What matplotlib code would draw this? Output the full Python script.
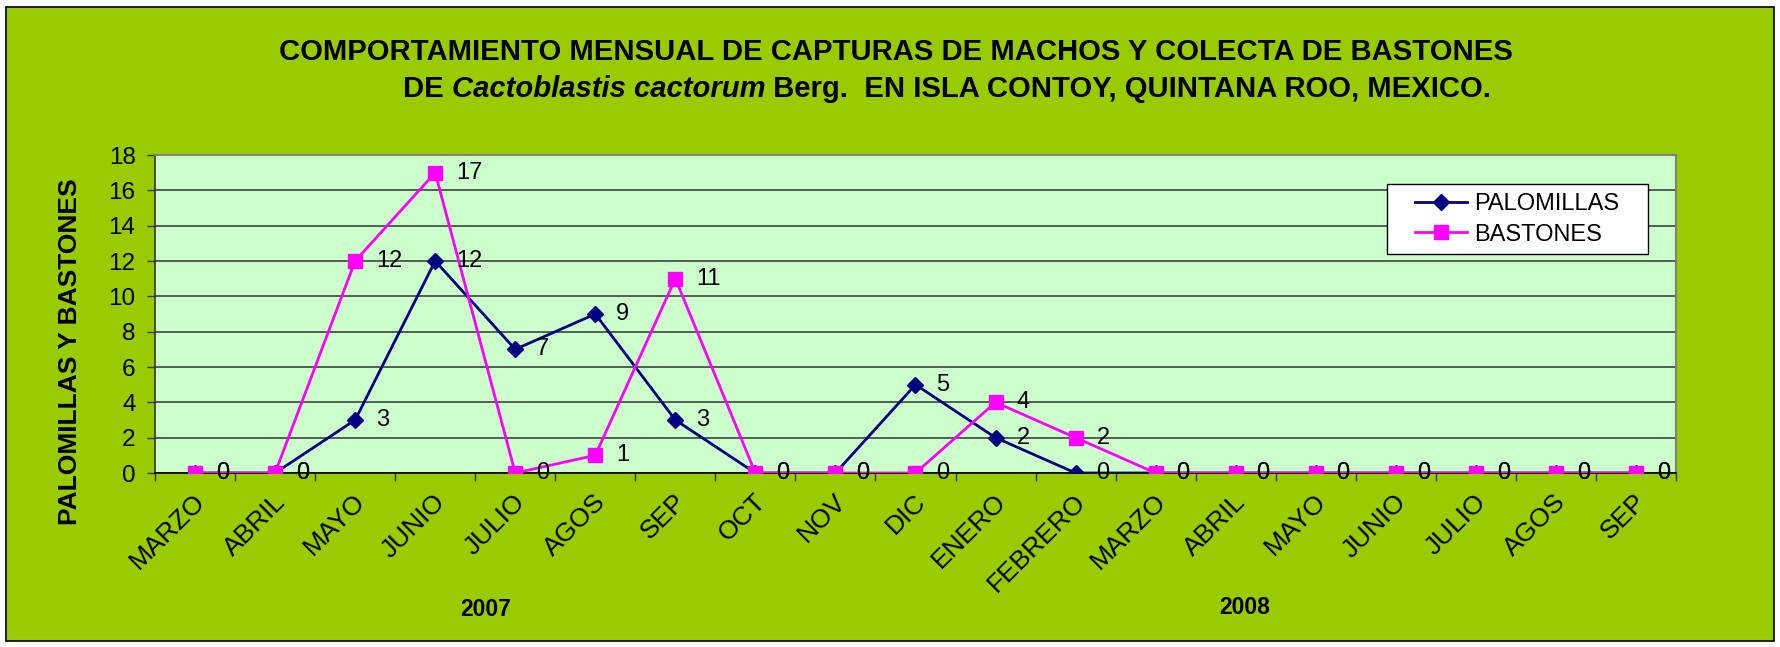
import matplotlib
matplotlib.use("Agg")
import matplotlib.pyplot as plt
from matplotlib.patches import Rectangle
from matplotlib.transforms import ScaledTranslation
import numpy as np

months = ["MARZO", "ABRIL", "MAYO", "JUNIO", "JULIO", "AGOS", "SEP", "OCT", "NOV", "DIC",
          "ENERO", "FEBRERO", "MARZO", "ABRIL", "MAYO", "JUNIO", "JULIO", "AGOS", "SEP"]
palomillas = [0, 0, 3, 12, 7, 9, 3, 0, 0, 5, 2, 0, 0, 0, 0, 0, 0, 0, 0]
bastones = [0, 0, 12, 17, 0, 1, 11, 0, 0, 0, 4, 2, 0, 0, 0, 0, 0, 0, 0]
years = ["2007", "2008"]
yticks = list(range(0, 19, 2))

plt.rcParams['font.family'] = ['Liberation Sans', 'DejaVu Sans']

W, H = 1781, 647
fig = plt.figure(figsize=(W / 100, H / 100), dpi=100, facecolor="white")

def fx(px):
    return px / W

def fy(py):
    return 1 - py / H

# green background with black border
fig.patches.append(Rectangle((fx(6), fy(641)), fx(1774) - fx(6), fy(7) - fy(641),
                             transform=fig.transFigure, facecolor="#99CC00",
                             edgecolor="black", linewidth=1.2, zorder=-10))

ax = fig.add_axes([fx(155), fy(473), fx(1676) - fx(155), fy(155) - fy(473)])
ax.set_facecolor("#CCFFCC")

x = np.arange(len(months))
ax.set_xlim(-0.5, len(months) - 0.5)
ax.set_ylim(0, 18)
ax.set_yticks(yticks)
ax.yaxis.grid(True, color="#333333", linewidth=1.1)
ax.set_axisbelow(True)

ax.plot(x, palomillas, color="#000080", lw=2, marker="D", markersize=8,
        markerfacecolor="#000080", markeredgecolor="#000080", label="PALOMILLAS", zorder=3)
ax.plot(x, bastones, color="#FF00FF", lw=2, marker="s", markersize=10,
        markerfacecolor="#FF00FF", markeredgecolor="#FF00FF", label="BASTONES", zorder=4)

for xi, v in zip(x, palomillas):
    ax.annotate(str(v), (xi, v), xytext=(15, 0), textcoords="offset points",
                ha="left", va="center", fontsize=17, zorder=6)
for xi, v in zip(x, bastones):
    ax.annotate(str(v), (xi, v), xytext=(15, 0), textcoords="offset points",
                ha="left", va="center", fontsize=17, zorder=6)

ax.set_xticks(x)
ax.set_xticklabels(months, rotation=45, ha="right", va="top", rotation_mode="anchor",
                   fontsize=19)
ax.tick_params(axis="x", which="major", length=0, pad=12)
shift = ScaledTranslation(-2 / 100, 0, fig.dpi_scale_trans)
for lab in ax.get_xticklabels():
    lab.set_transform(lab.get_transform() + shift)
ax.set_xticks(np.arange(-0.5, len(months), 1), minor=True)
ax.tick_params(axis="x", which="minor", length=6, width=1, color="#333333", direction="out")
ax.tick_params(axis="y", length=6, width=1, color="#333333", labelsize=17.5, pad=8)

for s in ["top", "right"]:
    ax.spines[s].set_color("#808080")
    ax.spines[s].set_linewidth(1.5)
ax.spines["left"].set_color("#333333")
ax.spines["bottom"].set_color("black")
ax.spines["left"].set_linewidth(1.2)
ax.spines["bottom"].set_linewidth(1.2)

# y label
fig.text(fx(70), fy(352), "PALOMILLAS Y BASTONES", rotation=90, ha="center", va="center",
         fontsize=19, fontweight="bold")

# year labels
fig.text(fx(486), fy(610), years[0], ha="center", va="center", fontsize=16.5, fontweight="bold")
fig.text(fx(1245), fy(608), years[1], ha="center", va="center", fontsize=16.5, fontweight="bold")

# title
fig.canvas.draw()
renderer = fig.canvas.get_renderer()
t1 = fig.text(fx(279), fy(52), "COMPORTAMIENTO MENSUAL DE CAPTURAS DE MACHOS Y COLECTA DE BASTONES",
              ha="left", va="center", fontsize=20, fontweight="bold")
w20 = t1.get_window_extent(renderer).width
fs_title = 20 * 1232 / w20
t1.set_fontsize(fs_title)
parts = [("DE ", "normal"), ("Cactoblastis cactorum", "italic"),
         (" Berg.  EN ISLA CONTOY, QUINTANA ROO, MEXICO.", "normal")]
texts = []
for s, st in parts:
    t = fig.text(0, fy(89), s, ha="left", va="center", fontsize=fs_title, fontweight="bold",
                 fontstyle=st)
    texts.append(t)
widths = [t.get_window_extent(renderer).width for t in texts]
cur = 947 - sum(widths) / 2
for t, w in zip(texts, widths):
    t.set_x(fx(cur))
    cur += w

# legend with explicit frame
frame = Rectangle((fx(1387), fy(254)), fx(1648) - fx(1387), fy(184) - fy(254),
                  transform=fig.transFigure, facecolor="white", edgecolor="black",
                  linewidth=1.0, zorder=9)
ax.add_patch(frame)
frame.set_clip_on(False)
leg = ax.legend(loc="center", bbox_to_anchor=(fx((1387 + 1648) / 2), fy(219.5)),
                bbox_transform=fig.transFigure, borderaxespad=0, fontsize=17,
                frameon=False, handlelength=2.2, handletextpad=0.3, borderpad=0.0,
                labelspacing=0.35)
leg.set_zorder(10)

fig.savefig("out.png", dpi=100, facecolor="white")
